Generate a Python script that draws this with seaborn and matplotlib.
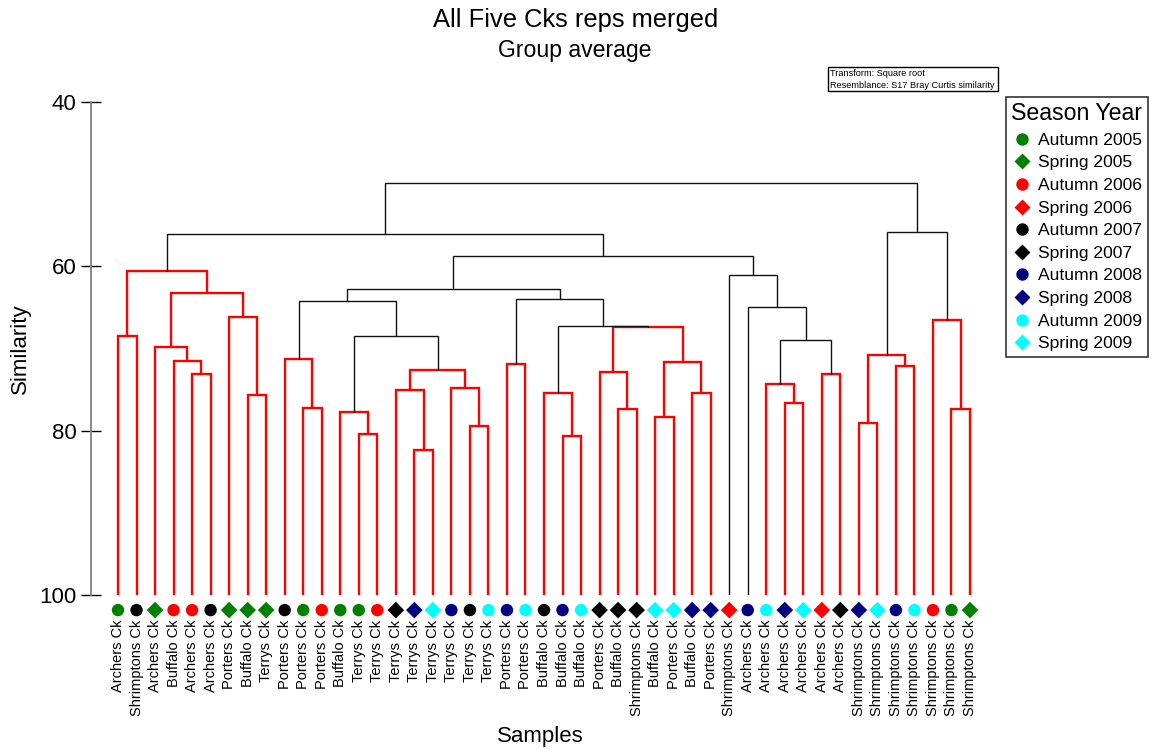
import matplotlib
matplotlib.use("Agg")
import matplotlib.pyplot as plt
from matplotlib.patches import Rectangle
import numpy as np
import pandas as pd
import seaborn as sns

# ---- leaf samples (in dendrogram order) ----
sites = [
    "Archers Ck", "Shrimptons Ck", "Archers Ck", "Buffalo Ck", "Archers Ck",
    "Archers Ck", "Porters Ck", "Buffalo Ck", "Terrys Ck", "Porters Ck",
    "Porters Ck", "Porters Ck", "Buffalo Ck", "Terrys Ck", "Terrys Ck",
    "Terrys Ck", "Terrys Ck", "Terrys Ck", "Terrys Ck", "Terrys Ck",
    "Terrys Ck", "Porters Ck", "Porters Ck", "Buffalo Ck", "Buffalo Ck",
    "Buffalo Ck", "Porters Ck", "Buffalo Ck", "Shrimptons Ck", "Buffalo Ck",
    "Porters Ck", "Buffalo Ck", "Porters Ck", "Shrimptons Ck", "Archers Ck",
    "Archers Ck", "Archers Ck", "Archers Ck", "Archers Ck", "Archers Ck",
    "Shrimptons Ck", "Shrimptons Ck", "Shrimptons Ck", "Shrimptons Ck",
    "Shrimptons Ck", "Shrimptons Ck", "Shrimptons Ck",
]
season_year = [
    "Autumn 2005", "Autumn 2007", "Spring 2005", "Autumn 2006", "Autumn 2006",
    "Autumn 2007", "Spring 2005", "Spring 2005", "Spring 2005", "Autumn 2007",
    "Autumn 2005", "Autumn 2006", "Autumn 2005", "Autumn 2005", "Autumn 2006",
    "Spring 2007", "Spring 2008", "Spring 2009", "Autumn 2008", "Autumn 2007",
    "Autumn 2009", "Autumn 2008", "Autumn 2009", "Autumn 2007", "Autumn 2008",
    "Autumn 2009", "Spring 2007", "Spring 2007", "Spring 2007", "Spring 2009",
    "Spring 2009", "Spring 2008", "Spring 2008", "Spring 2006", "Autumn 2008",
    "Autumn 2009", "Spring 2008", "Spring 2009", "Spring 2006", "Spring 2007",
    "Spring 2008", "Spring 2009", "Autumn 2008", "Autumn 2009", "Autumn 2006",
    "Autumn 2005", "Spring 2005",
]

# ---- group-average linkage: node 47+k joins merge_left[k] and merge_right[k] ----
merge_left = [4, 3, 2, 7, 6, 49, 0, 53, 10, 9, 13, 12, 16, 15, 19, 18, 60, 58,
              56, 21, 24, 23, 27, 26, 29, 31, 71, 70, 68, 66, 65, 36, 35, 38,
              79, 34, 33, 77, 54, 40, 42, 86, 45, 44, 88, 85]
merge_right = [5, 47, 48, 8, 50, 51, 1, 52, 11, 55, 14, 57, 17, 59, 20, 61, 62,
               63, 64, 22, 25, 67, 28, 69, 30, 32, 72, 73, 74, 75, 76, 37, 78,
               39, 80, 81, 82, 83, 84, 41, 43, 87, 46, 89, 90, 91]
merge_sim = [73.1, 71.5, 69.85, 75.6, 66.1, 63.2, 68.5, 60.6, 77.2, 71.2, 80.4,
             77.7, 82.3, 75.0, 79.4, 74.8, 72.6, 68.5, 64.2, 71.9, 80.6, 75.4,
             77.3, 72.8, 78.3, 75.4, 71.6, 67.4, 67.2, 64.0, 62.7, 76.6, 74.3,
             73.1, 69.0, 64.9, 61.0, 58.7, 56.1, 79.0, 72.1, 70.8, 77.4, 66.5,
             55.8, 49.9]

# nodes heading groups that are not internally structured (drawn in red)
simprof_groups = [54, 56, 58, 63, 66, 68, 74, 79, 80, 88, 90]

legend_order = ["Autumn 2005", "Spring 2005", "Autumn 2006", "Spring 2006",
                "Autumn 2007", "Spring 2007", "Autumn 2008", "Spring 2008",
                "Autumn 2009", "Spring 2009"]
year_colours = {"2005": "#008000", "2006": "#ff0000", "2007": "#000000",
                "2008": "#000080", "2009": "#00ffff"}
season_markers = {"Autumn": "o", "Spring": "D"}

# ---- layout of the tree ----
n_leaves = len(sites)
xpos = {i: float(i) for i in range(n_leaves)}
height = {i: 100.0 for i in range(n_leaves)}
for k, (a, b, s) in enumerate(zip(merge_left, merge_right, merge_sim)):
    node = n_leaves + k
    xpos[node] = (xpos[a] + xpos[b]) / 2
    height[node] = s

children = {n_leaves + k: (a, b) for k, (a, b) in enumerate(zip(merge_left, merge_right))}
red_nodes = set()
stack = list(simprof_groups)
while stack:
    nd = stack.pop()
    if nd in children:
        red_nodes.add(nd)
        stack.extend(children[nd])

# ---- figure ----
sns.set_style("white")
plt.rcParams["font.family"] = ["Liberation Sans", "DejaVu Sans"]
plt.rcParams.update({"text.color": "black", "axes.labelcolor": "black",
                     "xtick.color": "black", "ytick.color": "black"})

W, H = 1162, 749
fig = plt.figure(figsize=(W / 100, H / 100), dpi=100)
ax_left, ax_right, ax_top, ax_bot = 91, 990, 102, 595.3
ax = fig.add_axes([ax_left / W, 1 - ax_bot / H, (ax_right - ax_left) / W,
                   (ax_bot - ax_top) / H])

spacing = (970 - 118) / 46
ax.set_xlim(-(118 - ax_left) / spacing, 46 + (ax_right - 970) / spacing)
ax.set_ylim(100, 40)

for node, (a, b) in children.items():
    h = height[node]
    red = node in red_nodes
    col = "#ff0000" if red else "#111111"
    lw = 1.7 if red else 1.0
    ax.plot([xpos[a], xpos[a], xpos[b], xpos[b]],
            [height[a], h, h, height[b]],
            color=col, lw=lw, solid_joinstyle="miter", zorder=2)

# leaf markers
df = pd.DataFrame({
    "pos": np.arange(n_leaves),
    "group": season_year,
    "y": 101.8,
})
palette = {g: year_colours[g.split()[1]] for g in legend_order}
markers = {g: season_markers[g.split()[0]] for g in legend_order}
sizes = {g: (80 if markers[g] == "o" else 72) for g in legend_order}
sns.scatterplot(data=df, x="pos", y="y", hue="group", style="group",
                size="group", sizes=sizes, size_order=legend_order,
                hue_order=legend_order, style_order=legend_order,
                palette=palette, markers=markers, edgecolor="none",
                clip_on=False, zorder=3, ax=ax)

# axes styling
for side in ["top", "right", "bottom"]:
    ax.spines[side].set_visible(False)
ax.spines["left"].set_color("#808080")
ax.spines["left"].set_linewidth(1.3)
ax.set_yticks([40, 60, 80, 100])
ax.tick_params(axis="y", left=True, direction="inout", length=13.7, width=1.0,
               color="black", labelcolor="black", labelsize=16, pad=3.5)
ax.set_xticks(np.arange(n_leaves))
ax.set_xticklabels(sites, rotation=90, fontsize=10.5, va="top", ha="center")
ax.tick_params(axis="x", bottom=False, length=0, pad=17.5, labelcolor="black")
ax.set_xlabel("Samples", fontsize=16)
ax.set_ylabel("Similarity", fontsize=16)
ax.yaxis.set_label_coords(-(ax_left - 31) / (ax_right - ax_left), 0.5)
ax.xaxis.set_label_coords(0.5, -(726 - ax_bot) / (ax_bot - ax_top))

# legend
sns.move_legend(ax, loc="upper left",
                bbox_to_anchor=(1006 / W, 1 - 97 / H),
                bbox_transform=fig.transFigure,
                title="Season Year", frameon=True, fancybox=False,
                fontsize=12.6, title_fontsize=16.7, labelspacing=0.42,
                handletextpad=0.3, handlelength=1.2, borderpad=0.3,
                borderaxespad=0)
leg = ax.get_legend()
leg.get_frame().set_edgecolor("black")
leg.get_frame().set_linewidth(1.2)
for t in leg.get_texts():
    t.set_color("black")
leg.get_title().set_color("black")

# titles
fig.text(575.5 / W, 1 - 20 / H, "All Five Cks reps merged", fontsize=18.4,
         ha="center", va="center", color="black")
fig.text(575 / W, 1 - 50 / H, "Group average", fontsize=16.6,
         ha="center", va="center", color="black")

# analysis note box
fig.add_artist(Rectangle((828 / W, 1 - 91 / H), 170 / W, 24 / H,
                         transform=fig.transFigure, fill=False,
                         edgecolor="black", lw=1.0))
fig.text(830.5 / W, 1 - 73.5 / H, "Transform: Square root", fontsize=6.6,
         ha="left", va="center", color="black")
fig.text(830.5 / W, 1 - 85 / H, "Resemblance: S17 Bray Curtis similarity",
         fontsize=6.6, ha="left", va="center", color="black")

fig.savefig("out.png", dpi=100)
